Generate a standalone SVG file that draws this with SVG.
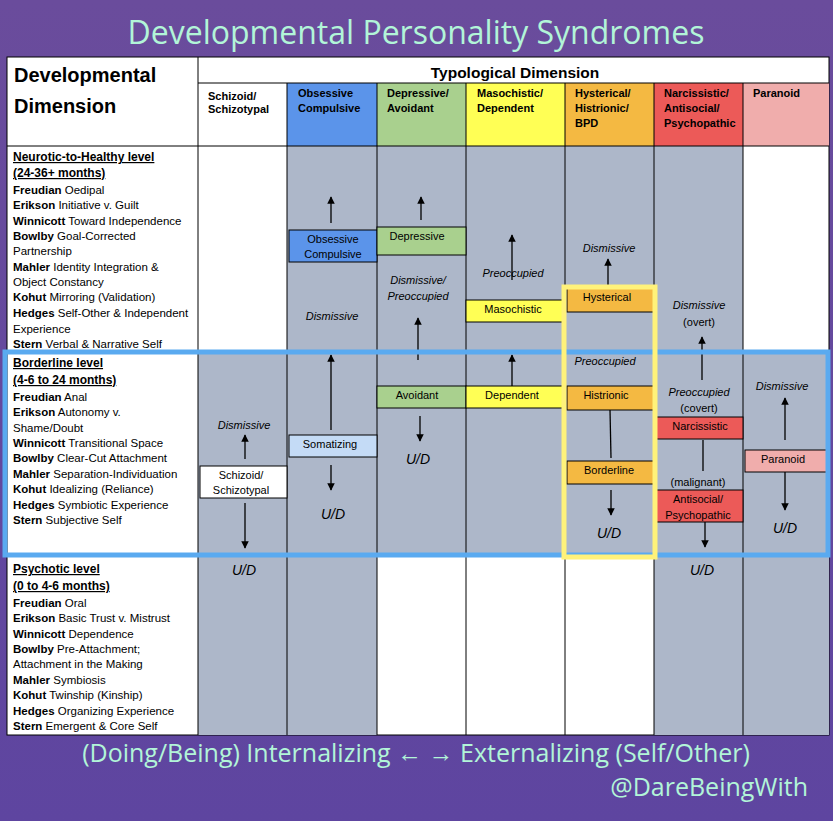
<svg xmlns="http://www.w3.org/2000/svg" width="833" height="821" viewBox="0 0 833 821">
<defs>
<linearGradient id="bg" x1="0" y1="0" x2="0" y2="1"><stop offset="0" stop-color="#6a4c9c"/><stop offset="1" stop-color="#5e45a0"/></linearGradient>
<marker id="ah" viewBox="0 0 10 10" refX="9" refY="5" markerWidth="7.5" markerHeight="7.5" markerUnits="userSpaceOnUse" orient="auto"><path d="M0,0 L10,5 L0,10 z" fill="#000"/></marker>
<style>
text{font-family:"Liberation Sans",Arial,sans-serif;fill:#000}
.t{font-size:11.5px}
.b{font-weight:bold}
.h{font-size:12px;font-weight:bold;text-decoration:underline}
.c{font-size:11px;text-anchor:middle}
.i{font-size:11px;font-style:italic;text-anchor:middle}
.ud{font-size:14px;font-style:italic;text-anchor:middle}
.ch{font-size:11px;font-weight:bold}
.box{stroke:#000;stroke-width:1}
.ln{stroke:#000;stroke-width:1.3;fill:none}
.ar{stroke:#000;stroke-width:1.3;fill:none;marker-end:url(#ah)}
.g{fill:#adb7c9}
</style>
</defs>
<rect width="833" height="821" fill="url(#bg)"/>
<text x="416" y="44" style="font-family:'Open Sans',sans-serif;font-size:32px;fill:#b2f5d8;text-anchor:middle">Developmental Personality Syndromes</text>
<g id="table">
<rect x="7" y="57" width="822" height="678" fill="#fff" stroke="#000"/>
<rect class="g" x="198" y="350" width="89" height="385"/>
<rect class="g" x="287" y="146" width="90" height="589"/>
<rect class="g" x="377" y="146" width="89" height="410"/>
<rect class="g" x="466" y="146" width="99" height="410"/>
<rect class="g" x="565" y="146" width="89" height="410"/>
<rect class="g" x="654" y="146" width="89" height="589"/>
<rect class="g" x="743" y="350" width="86" height="385"/>
<rect x="287" y="83" width="90" height="63" fill="#5b94ea"/>
<rect x="377" y="83" width="89" height="63" fill="#a9d08e"/>
<rect x="466" y="83" width="99" height="63" fill="#ffff55"/>
<rect x="565" y="83" width="89" height="63" fill="#f4b942"/>
<rect x="654" y="83" width="89" height="63" fill="#ec5a58"/>
<rect x="743" y="83" width="86" height="63" fill="#f0adac"/>
<g stroke="#000" stroke-width="1">
<line x1="198" y1="57" x2="198" y2="735"/>
<line x1="198" y1="83" x2="829" y2="83"/>
<line x1="7" y1="146" x2="829" y2="146"/>
<line x1="287" y1="83" x2="287" y2="735"/>
<line x1="377" y1="83" x2="377" y2="735"/>
<line x1="466" y1="83" x2="466" y2="735"/>
<line x1="565" y1="83" x2="565" y2="735"/>
<line x1="654" y1="83" x2="654" y2="735"/>
<line x1="743" y1="83" x2="743" y2="735"/>
</g>
<text x="14" y="82" style="font-size:20px;font-weight:bold">Developmental</text>
<text x="14" y="113" style="font-size:20px;font-weight:bold">Dimension</text>
<text x="515" y="78" style="font-size:15.5px;font-weight:bold;text-anchor:middle">Typological Dimension</text>
<text class="ch" x="208" y="100">Schizoid/</text><text class="ch" x="208" y="113">Schizotypal</text>
<text class="ch" x="298" y="97">Obsessive</text><text class="ch" x="298" y="112">Compulsive</text>
<text class="ch" x="387" y="97">Depressive/</text><text class="ch" x="387" y="112">Avoidant</text>
<text class="ch" x="477" y="97">Masochistic/</text><text class="ch" x="477" y="112">Dependent</text>
<text class="ch" x="575" y="97">Hysterical/</text><text class="ch" x="575" y="112">Histrionic/</text><text class="ch" x="575" y="127">BPD</text>
<text class="ch" x="664" y="97">Narcissistic/</text><text class="ch" x="664" y="112">Antisocial/</text><text class="ch" x="664" y="127">Psychopathic</text>
<text class="ch" x="753" y="97">Paranoid</text>
</g>
<g id="levels">
<text class="h" x="13" y="161">Neurotic-to-Healthy level</text>
<text class="h" x="13" y="177">(24-36+ months)</text>
<text class="t" x="13" y="194"><tspan class="b">Freudian</tspan> Oedipal</text>
<text class="t" x="13" y="209"><tspan class="b">Erikson</tspan> Initiative v. Guilt</text>
<text class="t" x="13" y="225"><tspan class="b">Winnicott</tspan> Toward Independence</text>
<text class="t" x="13" y="240"><tspan class="b">Bowlby</tspan> Goal-Corrected</text>
<text class="t" x="13" y="255">Partnership</text>
<text class="t" x="13" y="271"><tspan class="b">Mahler</tspan> Identity Integration &amp;</text>
<text class="t" x="13" y="286">Object Constancy</text>
<text class="t" x="13" y="301"><tspan class="b">Kohut</tspan> Mirroring (Validation)</text>
<text class="t" x="13" y="317"><tspan class="b">Hedges</tspan> Self-Other &amp; Independent</text>
<text class="t" x="13" y="333">Experience</text>
<text class="t" x="13" y="348"><tspan class="b">Stern</tspan> Verbal &amp; Narrative Self</text>
<text class="h" x="13" y="367">Borderline level</text>
<text class="h" x="13" y="384">(4-6 to 24 months)</text>
<text class="t" x="13" y="401"><tspan class="b">Freudian</tspan> Anal</text>
<text class="t" x="13" y="416"><tspan class="b">Erikson</tspan> Autonomy v.</text>
<text class="t" x="13" y="432">Shame/Doubt</text>
<text class="t" x="13" y="447"><tspan class="b">Winnicott</tspan> Transitional Space</text>
<text class="t" x="13" y="462"><tspan class="b">Bowlby</tspan> Clear-Cut Attachment</text>
<text class="t" x="13" y="478"><tspan class="b">Mahler</tspan> Separation-Individuation</text>
<text class="t" x="13" y="493"><tspan class="b">Kohut</tspan> Idealizing (Reliance)</text>
<text class="t" x="13" y="509"><tspan class="b">Hedges</tspan> Symbiotic Experience</text>
<text class="t" x="13" y="524"><tspan class="b">Stern</tspan> Subjective Self</text>
<text class="h" x="13" y="573">Psychotic level</text>
<text class="h" x="13" y="590">(0 to 4-6 months)</text>
<text class="t" x="13" y="607"><tspan class="b">Freudian</tspan> Oral</text>
<text class="t" x="13" y="622"><tspan class="b">Erikson</tspan> Basic Trust v. Mistrust</text>
<text class="t" x="13" y="638"><tspan class="b">Winnicott</tspan> Dependence</text>
<text class="t" x="13" y="653"><tspan class="b">Bowlby</tspan> Pre-Attachment;</text>
<text class="t" x="13" y="668">Attachment in the Making</text>
<text class="t" x="13" y="684"><tspan class="b">Mahler</tspan> Symbiosis</text>
<text class="t" x="13" y="699"><tspan class="b">Kohut</tspan> Twinship (Kinship)</text>
<text class="t" x="13" y="715"><tspan class="b">Hedges</tspan> Organizing Experience</text>
<text class="t" x="13" y="730"><tspan class="b">Stern</tspan> Emergent &amp; Core Self</text>
</g>
<g id="connectors">
<line class="ar" x1="331" y1="223" x2="331" y2="197"/>
<line class="ar" x1="331" y1="430" x2="331" y2="355"/>
<line class="ar" x1="331" y1="465" x2="331" y2="490"/>
<line class="ar" x1="421" y1="220" x2="421" y2="197"/>
<line class="ar" x1="418" y1="360" x2="418" y2="318"/>
<line class="ar" x1="420" y1="416" x2="420" y2="441"/>
<line class="ar" x1="512" y1="280" x2="512" y2="235"/>
<line class="ar" x1="512" y1="386" x2="512" y2="355"/>
<line class="ar" x1="608" y1="287" x2="608" y2="259"/>
<line class="ln" x1="610" y1="410" x2="611" y2="458"/>
<line class="ar" x1="611" y1="490" x2="611" y2="515"/>
<line class="ar" x1="702" y1="380" x2="702" y2="337"/>
<line class="ln" x1="703" y1="440" x2="703" y2="471"/>
<line class="ar" x1="705" y1="522" x2="705" y2="547"/>
<line class="ar" x1="785" y1="440" x2="785" y2="398"/>
<line class="ar" x1="785" y1="472" x2="785" y2="510"/>
<line class="ar" x1="245" y1="459" x2="245" y2="435"/>
<line class="ar" x1="245" y1="503" x2="245" y2="548"/>
</g>
<g id="nodes">
<g id="oc"><rect class="box" x="289" y="230" width="88" height="32" fill="#5b94ea"/><text class="c" x="333" y="243">Obsessive</text><text class="c" x="333" y="258">Compulsive</text></g>
<g id="depressive"><rect class="box" x="377" y="227" width="89" height="28" fill="#a9d08e"/><text class="c" x="417" y="240">Depressive</text></g>
<g id="masochistic"><rect class="box" x="466" y="300" width="99" height="22" fill="#ffff55"/><text class="c" x="513" y="313">Masochistic</text></g>
<g id="hysterical"><rect class="box" x="567" y="288" width="87" height="24" fill="#f4b942"/><text class="c" x="607" y="301">Hysterical</text></g>
<g id="avoidant"><rect class="box" x="377" y="386" width="89" height="22" fill="#a9d08e"/><text class="c" x="417" y="399">Avoidant</text></g>
<g id="dependent"><rect class="box" x="466" y="386" width="99" height="22" fill="#ffff55"/><text class="c" x="512" y="399">Dependent</text></g>
<g id="histrionic"><rect class="box" x="567" y="386" width="87" height="24" fill="#f4b942"/><text class="c" x="606" y="399">Histrionic</text></g>
<g id="borderline"><rect class="box" x="567" y="461" width="87" height="23" fill="#f4b942"/><text class="c" x="609" y="474">Borderline</text></g>
<g id="narcissistic"><rect class="box" x="656" y="417" width="87" height="22" fill="#ec5a58"/><text class="c" x="700" y="430">Narcissistic</text></g>
<g id="antisocial"><rect class="box" x="656" y="490" width="87" height="32" fill="#ec5a58"/><text class="c" x="698" y="503">Antisocial/</text><text class="c" x="698" y="519">Psychopathic</text></g>
<g id="paranoid"><rect class="box" x="745" y="450" width="84" height="22" fill="#f0adac"/><text class="c" x="783" y="463">Paranoid</text></g>
<g id="somatizing"><rect class="box" x="289" y="435" width="88" height="22" fill="#c4dbf6"/><text class="c" x="330" y="448">Somatizing</text></g>
<g id="schizoid"><rect class="box" x="200" y="466" width="87" height="32" fill="#fff"/><text class="c" x="241" y="479">Schizoid/</text><text class="c" x="241" y="494">Schizotypal</text></g>
</g>
<g id="labels">
<text class="i" x="332" y="320">Dismissive</text>
<text class="i" x="418" y="284">Dismissive/</text><text class="i" x="418" y="300">Preoccupied</text>
<text class="i" x="513" y="277">Preoccupied</text>
<text class="i" x="609" y="252">Dismissive</text>
<text class="i" x="605" y="365">Preoccupied</text>
<text class="i" x="699" y="309">Dismissive</text><text class="c" x="699" y="326">(overt)</text>
<text class="i" x="699" y="396">Preoccupied</text><text class="c" x="699" y="412">(covert)</text>
<text class="c" x="698" y="486">(malignant)</text>
<text class="i" x="782" y="390">Dismissive</text>
<text class="i" x="244" y="429">Dismissive</text>
<text class="ud" x="333" y="519">U/D</text>
<text class="ud" x="418" y="464">U/D</text>
<text class="ud" x="609" y="538">U/D</text>
<text class="ud" x="702" y="575">U/D</text>
<text class="ud" x="785" y="533">U/D</text>
<text class="ud" x="244" y="575">U/D</text>
</g>
<rect x="5" y="352" width="823" height="203" fill="none" stroke="#5aaaf0" stroke-width="5"/>
<rect x="564" y="287" width="91" height="270" fill="none" stroke="#fff27a" stroke-width="5"/>
<text x="416" y="762" style="font-family:'Open Sans',sans-serif;font-size:25px;fill:#b2f5d8;text-anchor:middle">(Doing/Being) Internalizing ← → Externalizing (Self/Other)</text>
<text x="808" y="796" style="font-family:'Open Sans',sans-serif;font-size:25px;fill:#b2f5d8;text-anchor:end">@DareBeingWith</text>
</svg>
